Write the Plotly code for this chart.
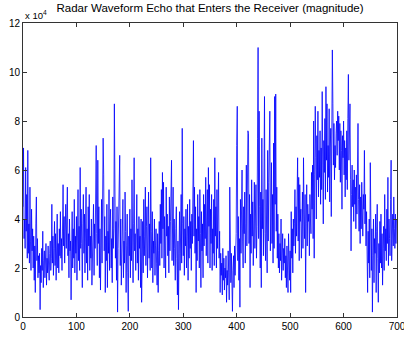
import plotly.graph_objects as go

# Echo magnitude, in units of 1e4, one sample per index (0..699)
echo_e4 = [
4.5, 6.9, 3.2, 4.0, 2.8, 6.1, 3.5, 5.0, 2.4, 6.8,
2.6, 3.8, 2.2, 5.3, 3.1, 1.9, 4.4, 2.7, 3.6, 2.0,
3.3, 1.5, 2.9, 1.0, 3.8, 4.9, 2.3, 3.2, 1.6, 2.5,
1.8, 2.6, 0.3, 2.1, 1.4, 2.8, 1.9, 3.5, 1.2, 2.3,
2.7, 1.6, 2.2, 3.0, 1.3, 2.4, 1.8, 2.9, 2.0, 1.5,
2.6, 3.1, 1.9, 2.4, 4.6, 2.2, 3.3, 1.7, 2.8, 3.9,
2.1, 3.4, 1.5, 2.7, 4.2, 2.0, 3.0, 1.8, 3.6, 2.5,
4.3, 2.4, 3.2, 1.9, 3.8, 5.4, 2.9, 4.1, 2.2, 3.5,
4.6, 2.8, 3.9, 5.3, 2.5, 3.4, 1.6, 4.0, 2.7, 3.1,
0.7, 2.9, 4.3, 2.0, 3.6, 2.4, 4.8, 1.8, 3.3, 2.6,
4.1, 1.5, 3.5, 5.2, 2.3, 3.7, 1.9, 6.1, 2.8, 4.4,
3.0, 1.2, 3.8, 5.0, 2.6, 4.2, 1.8, 3.4, 5.3, 2.2,
3.6, 1.5, 4.5, 2.9, 5.0, 1.9, 3.3, 2.4, 4.0, 1.3,
3.1, 2.5, 4.6, 1.7, 3.8, 2.8, 5.5, 7.0, 3.4, 2.1,
6.4, 3.0, 4.5, 1.6, 3.6, 1.1, 2.9, 4.8, 2.2, 3.9,
7.3, 5.8, 2.7, 4.1, 1.0, 3.3, 2.3, 4.6, 1.2, 3.5,
2.6, 5.2, 1.9, 3.8, 4.4, 2.0, 3.2, 1.4, 4.9, 2.8,
3.6, 8.7, 6.1, 2.4, 3.9, 1.5, 4.5, 0.2, 2.8, 3.7,
5.0, 6.6, 2.1, 4.0, 1.3, 3.4, 2.6, 4.8, 1.6, 3.1,
2.2, 5.1, 3.5, 1.0, 2.9, 4.2, 1.8, 0.23, 3.3, 2.5,
4.4, 1.6, 3.6, 2.3, 5.6, 2.9, 1.4, 3.8, 6.5, 2.7,
3.4, 1.9, 4.6, 5.0, 2.2, 3.6, 1.5, 4.1, 2.8, 3.3,
1.2, 4.0, 0.6, 2.7, 3.9, 1.8, 4.8, 2.5, 3.3, 5.3,
2.1, 3.7, 4.5, 1.6, 3.0, 5.1, 2.4, 3.8, 1.9, 6.5,
3.5, 2.0, 4.3, 1.4, 3.1, 2.6, 4.0, 1.7, 2.9, 3.6,
2.2, 1.3, 3.4, 1.0, 2.7, 3.9, 2.1, 4.6, 3.0, 5.2,
2.4, 5.9, 3.6, 5.5, 2.0, 4.1, 2.9, 1.6, 5.3, 3.3,
4.2, 2.5, 3.7, 1.8, 4.9, 2.7, 3.9, 6.0, 6.4, 2.3,
3.5, 5.3, 2.1, 4.0, 2.8, 1.5, 3.6, 4.5, 2.4, 0.9,
3.1, 0.3, 2.6, 4.3, 1.9, 3.4, 5.0, 2.2, 7.7, 3.8,
2.5, 4.1, 1.7, 3.6, 2.9, 4.4, 2.0, 3.3, 4.6, 1.5,
3.7, 2.4, 4.8, 2.8, 3.9, 1.9, 4.2, 3.0, 5.4, 7.2,
3.3, 5.3, 2.6, 4.5, 1.0, 3.6, 2.3, 5.0, 3.1, 4.1,
2.0, 5.2, 3.4, 1.2, 4.3, 2.7, 3.8, 1.6, 5.0, 2.9,
4.6, 3.2, 5.7, 2.5, 4.0, 5.2, 2.2, 6.1, 3.7, 5.4,
2.0, 4.4, 3.0, 5.0, 1.9, 3.6, 2.6, 4.8, 2.1, 6.5,
3.3, 4.5, 2.0, 5.2, 2.8, 3.9, 5.9, 2.4, 3.5, 1.0,
2.6, 1.7, 2.2, 0.9, 2.8, 1.5, 2.4, 1.1, 2.0, 1.6,
2.5, 0.6, 1.9, 1.3, 2.7, 1.8, 0.7, 5.3, 2.2, 1.4,
2.6, 1.0, 0.23, 1.9, 2.5, 1.2, 2.9, 1.7, 2.5, 3.4,
7.0, 8.6, 2.3, 4.1, 1.5, 3.2, 0.4, 4.8, 2.6, 5.3,
6.0, 3.1, 2.0, 4.5, 3.4, 5.1, 2.2, 3.8, 6.2, 2.9,
4.3, 7.6, 7.5, 3.0, 5.0, 1.2, 4.2, 2.6, 5.6, 3.3,
4.7, 2.1, 3.5, 5.5, 2.8, 4.0, 5.4, 2.4, 3.7, 7.3,
11.0, 3.2, 8.4, 4.5, 2.0, 5.1, 1.2, 7.3, 3.6, 4.8,
2.5, 6.0, 9.0, 3.4, 2.3, 5.2, 4.0, 1.8, 6.8, 3.1,
5.5, 7.5, 8.4, 2.7, 4.4, 6.3, 3.0, 5.0, 2.2, 7.1,
2.8, 9.0, 4.6, 9.1, 3.5, 5.3, 2.4, 4.2, 2.0, 3.4,
1.8, 3.0, 2.3, 4.0, 1.5, 2.6, 3.4, 1.9, 2.8, 2.2,
3.2, 1.6, 2.5, 1.2, 2.9, 2.0, 1.0, 3.4, 2.2, 1.5,
2.7, 1.0, 4.3, 2.4, 3.6, 1.8, 4.0, 2.9, 3.8, 5.2,
2.6, 4.5, 3.3, 5.0, 6.5, 3.1, 5.7, 2.3, 5.4, 3.9,
4.4, 2.4, 3.5, 5.1, 2.8, 6.5, 4.2, 3.2, 5.0, 1.0,
3.8, 5.4, 2.9, 4.6, 3.9, 4.2, 2.5, 5.0, 4.0, 3.4,
5.9, 4.4, 6.2, 3.2, 8.0, 2.4, 5.8, 8.6, 6.5, 4.0,
7.4, 5.6, 8.4, 4.9, 6.8, 5.7, 7.6, 4.6, 6.9, 5.2,
9.2, 6.0, 3.8, 7.2, 5.9, 8.1, 4.8, 9.4, 6.4, 8.7,
5.1, 7.0, 5.7, 8.5, 4.7, 6.9, 7.7, 4.1, 6.3, 10.9,
8.7, 6.2, 7.9, 5.6, 7.0, 6.1, 7.5, 8.0, 6.6, 8.4,
7.2, 8.2, 6.0, 7.9, 5.5, 7.6, 6.8, 4.4, 7.4, 6.5,
8.0, 5.8, 7.2, 4.9, 6.9, 5.6, 7.6, 5.2, 8.1, 9.9,
6.4, 8.0, 8.7, 5.6, 2.7, 5.0, 6.2, 4.5, 5.6, 3.9,
6.0, 4.6, 5.3, 3.6, 5.8, 4.2, 6.1, 7.9, 4.8, 3.5,
5.4, 3.0, 4.9, 3.6, 5.5, 4.0, 3.3, 5.0, 4.4, 6.8,
3.8, 5.0, 2.9, 4.3, 3.0, 1.0, 3.5, 2.2, 4.0, 1.6,
6.3, 2.8, 1.9, 3.6, 0.2, 2.5, 4.0, 1.4, 3.2, 2.6,
4.2, 1.0, 3.5, 4.6, 2.4, 0.6, 3.0, 1.8, 3.9, 2.2,
4.2, 2.0, 3.4, 1.3, 2.8, 3.7, 1.9, 5.0, 2.7, 3.6,
2.3, 4.4, 3.0, 5.7, 2.1, 4.0, 3.2, 2.5, 4.8, 6.4,
2.3, 3.8, 4.2, 2.9, 4.9, 3.6, 2.8, 4.2, 3.0, 4.0,
]
sample_idx = list(range(len(echo_e4)))

x_ticks = [0, 100, 200, 300, 400, 500, 600, 700]
y_ticks = [0, 2, 4, 6, 8, 10, 12]
title_text = "Radar Waveform Echo that Enters the Receiver (magnitude)"
exp_text = "x 10<sup>4</sup>"

FONT = "Liberation Sans, Arial, sans-serif"

fig = go.Figure()
fig.add_trace(go.Scatter(
    x=sample_idx, y=echo_e4, mode="lines",
    line=dict(color="#0000FF", width=0.8),
    showlegend=False, hoverinfo="skip",
))

axis_common = dict(
    showgrid=False, zeroline=False, showline=True, linecolor="#333333",
    linewidth=1, mirror="ticks", ticks="inside", ticklen=4,
    tickcolor="#333333", automargin=False, ticklabeloverflow="allow",
    tickfont=dict(family=FONT, size=10, color="black"),
)
fig.update_xaxes(range=[0, 700], tickvals=x_ticks, **axis_common)
fig.update_yaxes(range=[0, 12], tickvals=y_ticks, **axis_common)

fig.update_layout(
    width=404, height=337,
    margin=dict(l=23, r=7, t=23, b=20, autoexpand=False),
    paper_bgcolor="white", plot_bgcolor="white",
    hovermode=False,
    title=dict(text=title_text, x=0.5, xref="paper", xanchor="center",
               y=1, yref="container", yanchor="top", pad=dict(t=4),
               automargin=False,
               font=dict(family=FONT, size=11.5, color="black")),
    annotations=[dict(text=exp_text, xref="paper", yref="paper", x=0.0, y=1.0,
                      xanchor="left", yanchor="bottom", showarrow=False,
                      font=dict(family=FONT, size=9.5, color="black"))],
)

fig.write_html(
    "out.html",
    config={"displayModeBar": False, "staticPlot": True},
    post_script="document.body.style.margin='0';document.body.style.overflow='hidden';",
)
